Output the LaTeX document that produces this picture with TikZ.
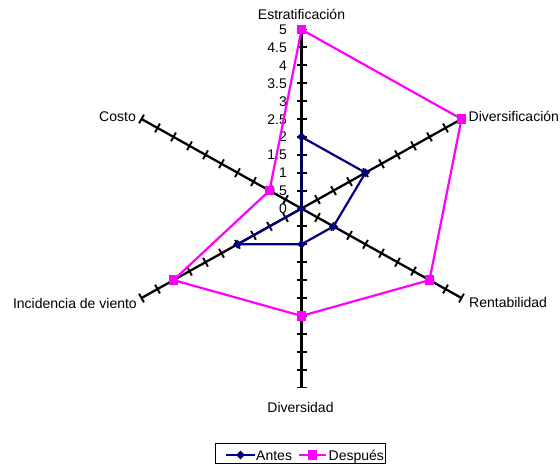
\documentclass[tikz,border=0pt]{standalone}
\usepackage{fontspec}
\setmainfont{Liberation Sans}
\usetikzlibrary{calc,shapes.geometric}
\definecolor{navyc}{RGB}{0,0,128}
\definecolor{magc}{RGB}{255,0,255}
\begin{document}
\begin{tikzpicture}[x=1pt,y=-1pt,
  axisline/.style={line width=2.3pt, black},
  tickmark/.style={line width=1.9pt, black},
  lbl/.style={font=\fontsize{14}{16}\selectfont, inner sep=0pt, text=black},
  num/.style={font=\fontsize{14}{16}\selectfont, inner sep=0pt, anchor=base east, text=black},
  antesline/.style={line width=2.2pt, navyc},
  despline/.style={line width=2.2pt, magc},
  antesmark/.style={diamond, fill=navyc, inner sep=0pt, minimum size=9pt},
  despmark/.style={rectangle, fill=magc, inner sep=0pt, minimum size=9.5pt},
  legbox/.style={draw=black, line width=1pt}]
\useasboundingbox (0,0) rectangle (560,469);
\coordinate (C) at (301.5,208.5);
% numeric labels on vertical axis
\foreach \v [count=\i] in {0,0.5,1,1.5,2,2.5,3,3.5,4,4.5,5}
  \node[num] (num\i) at ($(C)+(-14.5,5)+\v*(0,-35.8)$) {\v};
% axes with ticks
\foreach \n/\dx/\dy in {E/0/-35.8, D/32/-17.9, R/32/17.9, V/0/35.8, I/-32/17.9, K/-32/-17.9} {
  \coordinate (end\n) at ($(C)+5*(\dx,\dy)$);
  \draw[axisline] (C) -- (end\n);
  \foreach \k [count=\j] in {0.5,1,...,5} {
    \coordinate (p\n\j) at ($(C)+\k*(\dx,\dy)$);
    \coordinate (ta\n\j) at ($(p\n\j)!5pt!90:(C)$);
    \coordinate (tb\n\j) at ($(p\n\j)!5pt!-90:(C)$);
    \draw[tickmark] (ta\n\j) -- (tb\n\j);
  }
}
% axis titles
\node[lbl, anchor=base] (tE) at (301.5,19.5) {Estratificación};
\node[lbl, anchor=base west] (tD) at (468.5,121.5) {Diversificación};
\node[lbl, anchor=base west] (tR) at (469,307.5) {Rentabilidad};
\node[lbl, anchor=base] (tV) at (300.5,412.5) {Diversidad};
\node[lbl, anchor=base east] (tI) at (137,308) {Incidencia de viento};
\node[lbl, anchor=base east] (tK) at (136,121.5) {Costo};
% Antes
\coordinate (a1) at ($(C)+2*(0,-35.8)$);
\coordinate (a2) at ($(C)+2*(32,-17.9)$);
\coordinate (a3) at ($(C)+1*(32,17.9)$);
\coordinate (a4) at ($(C)+1*(0,35.8)$);
\coordinate (a5) at ($(C)+2*(-32,17.9)$);
\coordinate (a6) at (C);
\draw[antesline] (a1) -- (a2) -- (a3) -- (a4) -- (a5) -- (a6) -- cycle;
\foreach \i in {1,...,6} \node[antesmark] (am\i) at (a\i) {};
% Despues
\coordinate (d1) at ($(C)+5*(0,-35.8)$);
\coordinate (d2) at ($(C)+5*(32,-17.9)$);
\coordinate (d3) at ($(C)+4*(32,17.9)$);
\coordinate (d4) at ($(C)+3*(0,35.8)$);
\coordinate (d5) at ($(C)+4*(-32,17.9)$);
\coordinate (d6) at ($(C)+1*(-32,-17.9)$);
\draw[despline] (d1) -- (d2) -- (d3) -- (d4) -- (d5) -- (d6) -- cycle;
\foreach \i in {1,...,6} \node[despmark] (dm\i) at (d\i) {};
% legend
\node[legbox, minimum width=170pt, minimum height=20pt, inner sep=0pt] (leg) at (300,453.5) {};
\coordinate (la1) at (226,455);
\coordinate (la2) at (255,455);
\draw[antesline] (la1) -- (la2);
\node[antesmark] (lam) at ($(la1)!0.5!(la2)$) {};
\node[lbl, anchor=base west] (lat) at (256,460.5) {Antes};
\coordinate (ld1) at (299,455);
\coordinate (ld2) at (326,455);
\draw[despline] (ld1) -- (ld2);
\node[despmark] (ldm) at ($(ld1)!0.5!(ld2)$) {};
\node[lbl, anchor=base west] (ldt) at (328.5,460.5) {Después};
\end{tikzpicture}
\end{document}
